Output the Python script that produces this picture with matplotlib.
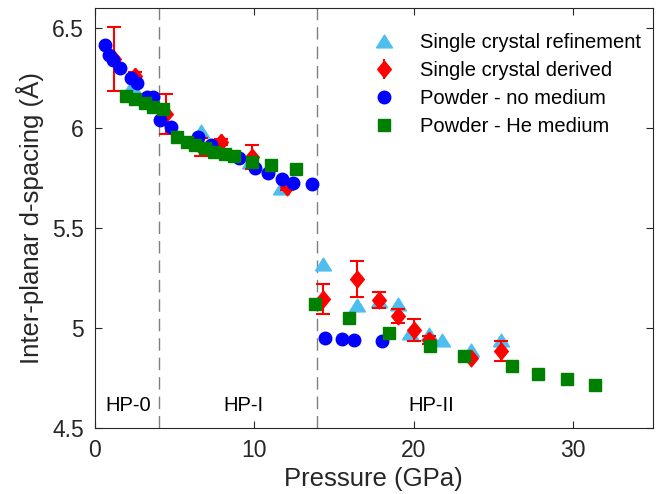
import matplotlib
matplotlib.use("Agg")
import matplotlib.pyplot as plt

plt.rcParams["font.family"] = ["Liberation Sans", "DejaVu Sans"]

# Single crystal refinement
scr_p = [2.3, 6.63, 9.7, 11.7, 14.31, 16.44, 17.81, 19.0, 19.75, 20.94, 21.75, 23.6, 25.5]
scr_d = [6.21, 5.985, 5.83, 5.70, 5.32, 5.115, 5.135, 5.12, 4.975, 4.97, 4.94, 4.89, 4.94]

# Single crystal derived (with error)
scd_p = [1.19, 2.5, 4.44, 6.63, 7.94, 9.88, 12.06,
         14.31, 16.44, 17.81, 19.0, 20.0, 20.94, 23.6, 25.5]
scd_d = [6.345, 6.26, 6.07, 5.905, 5.93, 5.855, 5.705,
         5.145, 5.245, 5.14, 5.06, 4.99, 4.94, 4.85, 4.885]
scd_err = [0.16, 0.02, 0.10, 0.045, 0.015, 0.06, 0.015,
           0.075, 0.09, 0.04, 0.035, 0.055, 0.02, 0.0, 0.05]

# Powder - no medium
pn_p = [0.63, 0.88, 1.13, 1.56, 2.25, 2.63, 3.25, 3.63, 4.06, 4.75, 6.44, 7.31,
        9.06, 10.06, 10.88, 11.75, 12.44, 13.63, 14.44, 15.5, 16.25, 18.0]
pn_d = [6.415, 6.365, 6.34, 6.30, 6.25, 6.225, 6.155, 6.155, 6.04, 6.005, 5.955, 5.915,
        5.85, 5.80, 5.775, 5.745, 5.725, 5.72, 4.95, 4.945, 4.94, 4.935]

# Powder - He medium
ph_p = [1.94, 2.5, 3.13, 3.63, 4.25, 5.13, 5.75, 6.25, 6.88, 7.5, 8.13, 8.75,
        9.88, 11.06, 12.63, 13.81, 15.94, 18.44, 21.0, 23.13, 26.19, 27.81, 29.63, 31.38]
ph_d = [6.16, 6.145, 6.125, 6.105, 6.095, 5.955, 5.93, 5.915, 5.90, 5.88, 5.87, 5.86,
        5.83, 5.815, 5.795, 5.12, 5.05, 4.975, 4.91, 4.86, 4.81, 4.77, 4.745, 4.715]

phase_bounds = [4.0, 13.95]
phase_names = ["HP-0", "HP-I", "HP-II"]
phase_label_x = [2.1, 9.3, 21.1]

# wide triangle and tall diamond, like the original marker shapes
tri = [(-1, -0.8), (1, -0.8), (0, 0.8), (-1, -0.8)]
dia = [(0, 1), (0.82, 0), (0, -1), (-0.82, 0), (0, 1)]

fig = plt.figure(figsize=(6.64, 4.94), dpi=100)
ax = fig.add_axes([0.143, 0.134, 0.84, 0.85])

for xb in phase_bounds:
    ax.axvline(xb, color="#7f7f7f", lw=1.0, ls=(0, (9, 5)), zorder=1)

h1, = ax.plot(scr_p, scr_d, ls="none", marker=tri, color="#4DBEEE", ms=11.5,
              label="Single crystal refinement", zorder=2)
ax.errorbar(scd_p, scd_d, yerr=scd_err, fmt="none", ecolor="red",
            elinewidth=1.5, capsize=5, capthick=1.5, zorder=3)
ax.plot(scd_p, scd_d, ls="none", marker=dia, color="red", ms=12, zorder=3)
h3, = ax.plot(pn_p, pn_d, "o", color="blue", ms=9, label="Powder - no medium", zorder=4)
h4, = ax.plot(ph_p, ph_d, "s", color="green", ms=8, label="Powder - He medium", zorder=5)

# legend proxy for the derived series (marker + error bar)
proxy = ax.errorbar([], [], yerr=[], fmt="none", ecolor="red",
                    elinewidth=1.5, capsize=5, capthick=1.5)
proxy_m, = ax.plot([], [], ls="none", marker=dia, color="red", ms=12)

for name, xl in zip(phase_names, phase_label_x):
    ax.text(xl, 4.61, name, ha="center", va="center", fontsize=14.5)

ax.set_xlim(0, 35)
ax.set_ylim(4.5, 6.6)
ax.set_xticks([0, 10, 20, 30])
ax.set_yticks([4.5, 5, 5.5, 6, 6.5])
ax.set_yticklabels(["4.5", "5", "5.5", "6", "6.5"])
ax.tick_params(direction="in", top=True, right=True, labelsize=16.5,
               length=5, width=0.8, colors="#262626", pad=8)
for sp in ax.spines.values():
    sp.set_color("#262626")
    sp.set_linewidth(0.8)

ax.set_xlabel("Pressure (GPa)", fontsize=18.5, color="#262626", labelpad=4)
ax.set_ylabel("Inter-planar d-spacing (Å)", fontsize=18.5, color="#262626", labelpad=6)

ax.legend([h1, (proxy, proxy_m), h3, h4],
          ["Single crystal refinement", "Single crystal derived",
           "Powder - no medium", "Powder - He medium"],
          loc="upper right", bbox_to_anchor=(0.993, 0.96), frameon=False,
          fontsize=14.5, labelspacing=0.45, borderaxespad=0, numpoints=1)

fig.savefig("out.png", dpi=100)
